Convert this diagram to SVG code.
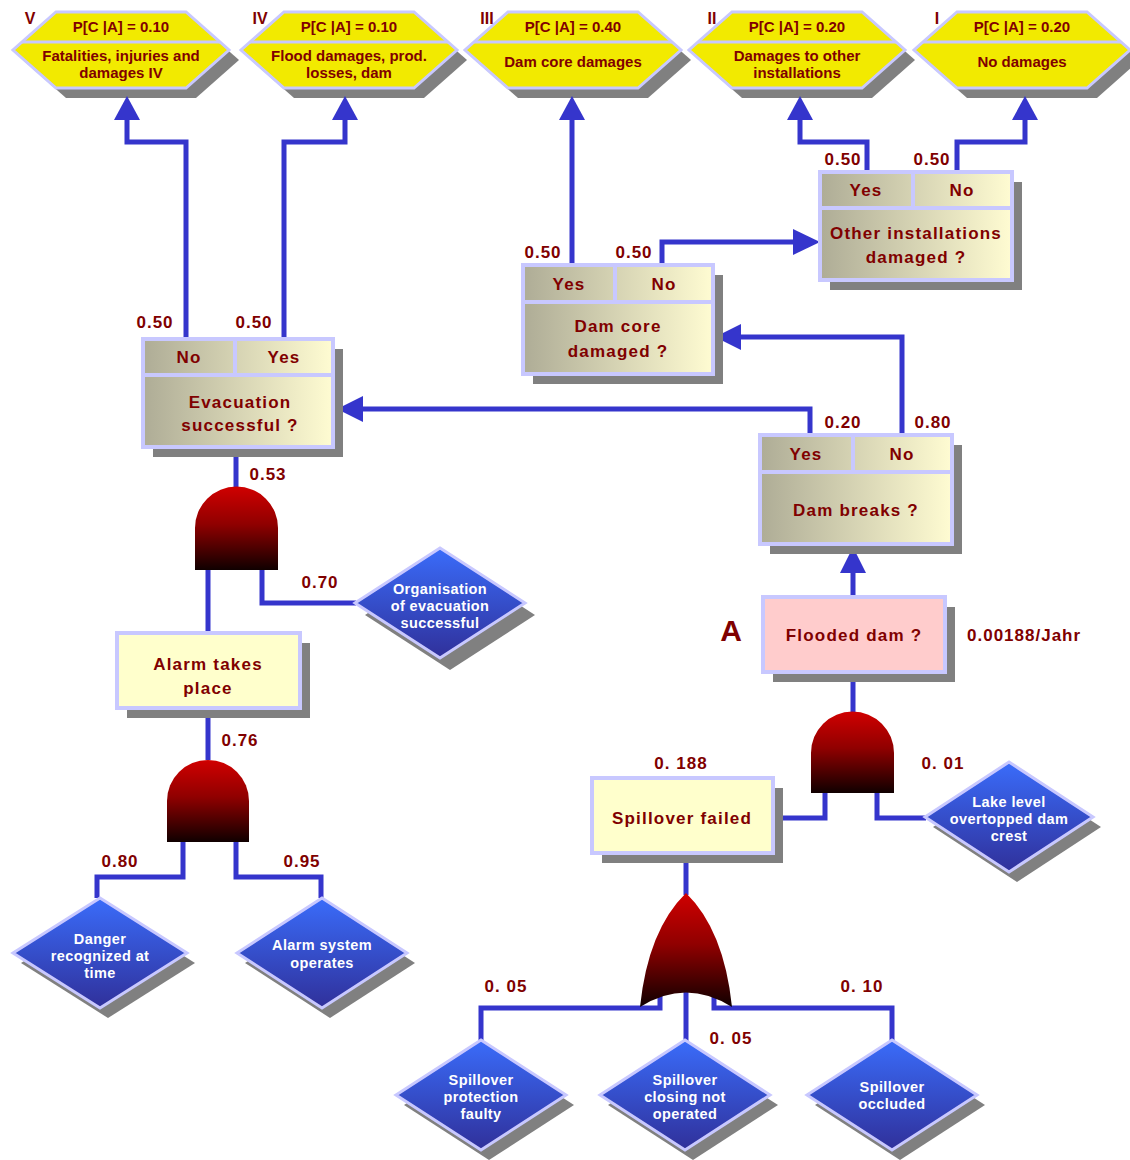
<svg xmlns="http://www.w3.org/2000/svg" width="1130" height="1160" viewBox="0 0 1130 1160">
<defs>
<linearGradient id="dg" x1="0" y1="0" x2="1" y2="0">
<stop offset="0" stop-color="#aeac96"/><stop offset="1" stop-color="#fffcd2"/>
</linearGradient>
<linearGradient id="gg" x1="0" y1="0" x2="0" y2="1">
<stop offset="0" stop-color="#d00000"/><stop offset="0.45" stop-color="#900000"/><stop offset="1" stop-color="#100000"/>
</linearGradient>
<linearGradient id="bg" x1="0" y1="0" x2="0" y2="1">
<stop offset="0" stop-color="#3a6cfa"/><stop offset="1" stop-color="#30309a"/>
</linearGradient>
<style>
.ln{fill:none;stroke:#3535cc;stroke-width:5}
.ah{fill:#3535cc}
.sh{fill:#808080}
.hex{fill:#f2ea00;stroke:#c8c8ff;stroke-width:3}
.hl{stroke:#c8c8ff;stroke-width:3}
.dbox{fill:url(#dg);stroke:#c8c8ff;stroke-width:4}
.sep{stroke:#c8c8ff;stroke-width:4}
.ybox{fill:#ffffcc;stroke:#c8c8ff;stroke-width:4}
.pbox{fill:#ffcccc;stroke:#c8c8ff;stroke-width:4}
.gate{fill:url(#gg)}
.dia{fill:url(#bg);stroke:#c8c8ff;stroke-width:3}
.t{font-family:"Liberation Sans",Arial,sans-serif;font-weight:bold;fill:#800000;text-anchor:middle}
.bt{font-size:17px;letter-spacing:1.2px}
.ht{font-size:15px}
.lb{font-size:17px;letter-spacing:1px}
.rn{font-size:16px}
.wt{font-family:"Liberation Sans",Arial,sans-serif;font-weight:bold;fill:#ffffff;text-anchor:middle;font-size:14.5px;letter-spacing:0.4px}
</style>
</defs>
<rect width="1130" height="1160" fill="#ffffff"/>

<!-- outcome hexagons -->
<g id="outcome-V">
<polygon class="sh" points="66,22 196,22 239,60 196,98 66,98 23,60"/>
<polygon class="hex" points="56,12 186,12 229,50 186,88 56,88 13,50"/>
<line class="hl" x1="22" y1="42" x2="220" y2="42"/>
<text class="t rn" x="30" y="24">V</text>
<text class="t ht" x="121" y="32">P[C |A] = 0.10</text>
<text class="t ht" x="121" y="61">Fatalities, injuries and</text>
<text class="t ht" x="121" y="78">damages IV</text>
</g>
<g id="outcome-IV">
<polygon class="sh" points="294,22 424,22 467,60 424,98 294,98 251,60"/>
<polygon class="hex" points="284,12 414,12 457,50 414,88 284,88 241,50"/>
<line class="hl" x1="250" y1="42" x2="448" y2="42"/>
<text class="t rn" x="260" y="24">IV</text>
<text class="t ht" x="349" y="32">P[C |A] = 0.10</text>
<text class="t ht" x="349" y="61">Flood damages, prod.</text>
<text class="t ht" x="349" y="78">losses, dam</text>
</g>
<g id="outcome-III">
<polygon class="sh" points="518,22 648,22 691,60 648,98 518,98 475,60"/>
<polygon class="hex" points="508,12 638,12 681,50 638,88 508,88 465,50"/>
<line class="hl" x1="474" y1="42" x2="672" y2="42"/>
<text class="t rn" x="487" y="24">III</text>
<text class="t ht" x="573" y="32">P[C |A] = 0.40</text>
<text class="t ht" x="573" y="67">Dam core damages</text>
</g>
<g id="outcome-II">
<polygon class="sh" points="742,22 872,22 915,60 872,98 742,98 699,60"/>
<polygon class="hex" points="732,12 862,12 905,50 862,88 732,88 689,50"/>
<line class="hl" x1="698" y1="42" x2="896" y2="42"/>
<text class="t rn" x="712" y="24">II</text>
<text class="t ht" x="797" y="32">P[C |A] = 0.20</text>
<text class="t ht" x="797" y="61">Damages to other</text>
<text class="t ht" x="797" y="78">installations</text>
</g>
<g id="outcome-I">
<polygon class="sh" points="967,22 1097,22 1140,60 1097,98 967,98 924,60"/>
<polygon class="hex" points="957,12 1087,12 1130,50 1087,88 957,88 914,50"/>
<line class="hl" x1="923" y1="42" x2="1121" y2="42"/>
<text class="t rn" x="937" y="24">I</text>
<text class="t ht" x="1022" y="32">P[C |A] = 0.20</text>
<text class="t ht" x="1022" y="67">No damages</text>
</g>

<!-- connectors -->
<g id="connectors">
<polyline class="ln" points="186,339 186,142 127,142 127,118"/>
<polygon class="ah" points="114,120 140,120 127,96"/>
<polyline class="ln" points="284,339 284,142 345,142 345,118"/>
<polygon class="ah" points="332,120 358,120 345,96"/>
<polyline class="ln" points="572,265 572,118"/>
<polygon class="ah" points="559,120 585,120 572,96"/>
<polyline class="ln" points="867,172 867,142 800,142 800,118"/>
<polygon class="ah" points="787,120 813,120 800,96"/>
<polyline class="ln" points="957,172 957,142 1025,142 1025,118"/>
<polygon class="ah" points="1012,120 1038,120 1025,96"/>
<polyline class="ln" points="662,265 662,242 795,242"/>
<polygon class="ah" points="793,229 793,255 820,242"/>
<polyline class="ln" points="810,435 810,409 360,409"/>
<polygon class="ah" points="363,396 363,422 337,409"/>
<polyline class="ln" points="902,435 902,337 738,337"/>
<polygon class="ah" points="741,324 741,350 715,337"/>
<polyline class="ln" points="853,597 853,570"/>
<polygon class="ah" points="840,573 866,573 853,547"/>
<polyline class="ln" points="236,447 236,487"/>
<polyline class="ln" points="208,570 208,633"/>
<polyline class="ln" points="262,570 262,603 356,603"/>
<polyline class="ln" points="208,708 208,760"/>
<polyline class="ln" points="183,842 183,877 97,877 97,898"/>
<polyline class="ln" points="236,842 236,877 321,877 321,898"/>
<polyline class="ln" points="853,672 853,712"/>
<polyline class="ln" points="825,793 825,818 773,818"/>
<polyline class="ln" points="877,793 877,818 926,818"/>
<polyline class="ln" points="686,853 686,895"/>
<polyline class="ln" points="660,990 660,1008 481,1008 481,1041"/>
<polyline class="ln" points="686,985 686,1041"/>
<polyline class="ln" points="714,990 714,1008 892,1008 892,1041"/>
</g>

<!-- decision boxes -->
<g id="evacuation">
<rect class="sh" x="153" y="349" width="190" height="108"/>
<rect class="dbox" x="143" y="339" width="190" height="108"/>
<line class="sep" x1="143" y1="375" x2="333" y2="375"/>
<line class="sep" x1="235" y1="339" x2="235" y2="375"/>
<text class="t bt" x="189" y="363">No</text>
<text class="t bt" x="284" y="363">Yes</text>
<text class="t bt" x="240" y="408">Evacuation</text>
<text class="t bt" x="240" y="431">successful ?</text>
</g>
<g id="dam-core">
<rect class="sh" x="533" y="275" width="190" height="109"/>
<rect class="dbox" x="523" y="265" width="190" height="109"/>
<line class="sep" x1="523" y1="302" x2="713" y2="302"/>
<line class="sep" x1="615" y1="265" x2="615" y2="302"/>
<text class="t bt" x="569" y="290">Yes</text>
<text class="t bt" x="664" y="290">No</text>
<text class="t bt" x="618" y="332">Dam core</text>
<text class="t bt" x="618" y="357">damaged ?</text>
</g>
<g id="other-installations">
<rect class="sh" x="830" y="182" width="192" height="108"/>
<rect class="dbox" x="820" y="172" width="192" height="108"/>
<line class="sep" x1="820" y1="208" x2="1012" y2="208"/>
<line class="sep" x1="913" y1="172" x2="913" y2="208"/>
<text class="t bt" x="866" y="196">Yes</text>
<text class="t bt" x="962" y="196">No</text>
<text class="t bt" x="916" y="239">Other installations</text>
<text class="t bt" x="916" y="263">damaged ?</text>
</g>
<g id="dam-breaks">
<rect class="sh" x="770" y="445" width="192" height="109"/>
<rect class="dbox" x="760" y="435" width="192" height="109"/>
<line class="sep" x1="760" y1="472" x2="952" y2="472"/>
<line class="sep" x1="853" y1="435" x2="853" y2="472"/>
<text class="t bt" x="806" y="460">Yes</text>
<text class="t bt" x="902" y="460">No</text>
<text class="t bt" x="856" y="516">Dam breaks ?</text>
</g>

<!-- event boxes -->
<g id="flooded-dam">
<rect class="sh" x="773" y="607" width="182" height="75"/>
<rect class="pbox" x="763" y="597" width="182" height="75"/>
<text class="t bt" x="854" y="641">Flooded dam ?</text>
</g>
<g id="alarm">
<rect class="sh" x="127" y="643" width="183" height="75"/>
<rect class="ybox" x="117" y="633" width="183" height="75"/>
<text class="t bt" x="208" y="670">Alarm takes</text>
<text class="t bt" x="208" y="694">place</text>
</g>
<g id="spillover-failed">
<rect class="sh" x="602" y="788" width="181" height="75"/>
<rect class="ybox" x="592" y="778" width="181" height="75"/>
<text class="t bt" x="682" y="824">Spillover failed</text>
</g>

<!-- gates -->
<g id="gate-and-1"><path class="gate" d="M195,570 L195,528 A41.5,41.5 0 0 1 278,528 L278,570 Z"/></g>
<g id="gate-and-2"><path class="gate" d="M167,842 L167,801 A41,41 0 0 1 249,801 L249,842 Z"/></g>
<g id="gate-and-3"><path class="gate" d="M811,793 L811,753 A41.5,41.5 0 0 1 894,753 L894,793 Z"/></g>
<g id="gate-or"><path class="gate" d="M640,1007 Q648,930 686,893 Q724,930 732,1007 Q686,978 640,1007 Z"/></g>

<!-- basic events -->
<g id="organisation">
<polygon class="sh" points="450,560 535,615 450,670 365,615"/>
<polygon class="dia" points="440,548 525,603 440,658 355,603"/>
<text class="wt" x="440" y="594">Organisation</text>
<text class="wt" x="440" y="611">of evacuation</text>
<text class="wt" x="440" y="628">successful</text>
</g>
<g id="danger">
<polygon class="sh" points="108,908 195,963 108,1018 21,963"/>
<polygon class="dia" points="100,898 187,953 100,1008 13,953"/>
<text class="wt" x="100" y="944">Danger</text>
<text class="wt" x="100" y="961">recognized at</text>
<text class="wt" x="100" y="978">time</text>
</g>
<g id="alarm-system">
<polygon class="sh" points="330,908 415,963 330,1018 245,963"/>
<polygon class="dia" points="322,898 407,953 322,1008 237,953"/>
<text class="wt" x="322" y="950">Alarm system</text>
<text class="wt" x="322" y="968">operates</text>
</g>
<g id="lake-level">
<polygon class="sh" points="1017,772 1101,827 1017,882 933,827"/>
<polygon class="dia" points="1009,762 1093,817 1009,872 925,817"/>
<text class="wt" x="1009" y="807">Lake level</text>
<text class="wt" x="1009" y="824">overtopped dam</text>
<text class="wt" x="1009" y="841">crest</text>
</g>
<g id="spill-protection">
<polygon class="sh" points="489,1050 574,1105 489,1160 404,1105"/>
<polygon class="dia" points="481,1040 566,1095 481,1150 396,1095"/>
<text class="wt" x="481" y="1085">Spillover</text>
<text class="wt" x="481" y="1102">protection</text>
<text class="wt" x="481" y="1119">faulty</text>
</g>
<g id="spill-closing">
<polygon class="sh" points="693,1050 778,1105 693,1160 608,1105"/>
<polygon class="dia" points="685,1040 770,1095 685,1150 600,1095"/>
<text class="wt" x="685" y="1085">Spillover</text>
<text class="wt" x="685" y="1102">closing not</text>
<text class="wt" x="685" y="1119">operated</text>
</g>
<g id="spill-occluded">
<polygon class="sh" points="900,1050 985,1105 900,1160 815,1105"/>
<polygon class="dia" points="892,1040 977,1095 892,1150 807,1095"/>
<text class="wt" x="892" y="1092">Spillover</text>
<text class="wt" x="892" y="1109">occluded</text>
</g>

<!-- labels -->
<g id="labels">
<text class="t lb" x="155" y="328">0.50</text>
<text class="t lb" x="254" y="328">0.50</text>
<text class="t lb" x="543" y="258">0.50</text>
<text class="t lb" x="634" y="258">0.50</text>
<text class="t lb" x="843" y="165">0.50</text>
<text class="t lb" x="932" y="165">0.50</text>
<text class="t lb" x="843" y="428">0.20</text>
<text class="t lb" x="933" y="428">0.80</text>
<text class="t lb" x="268" y="480">0.53</text>
<text class="t lb" x="320" y="588">0.70</text>
<text class="t lb" x="240" y="746">0.76</text>
<text class="t lb" x="120" y="867">0.80</text>
<text class="t lb" x="302" y="867">0.95</text>
<text class="t lb" x="681" y="769">0. 188</text>
<text class="t lb" x="943" y="769">0. 01</text>
<text class="t lb" x="967" y="641" style="text-anchor:start">0.00188/Jahr</text>
<text class="t lb" x="506" y="992">0. 05</text>
<text class="t lb" x="731" y="1044">0. 05</text>
<text class="t lb" x="862" y="992">0. 10</text>
<text class="t" x="731" y="641" style="font-size:30px">A</text>
</g>
</svg>
